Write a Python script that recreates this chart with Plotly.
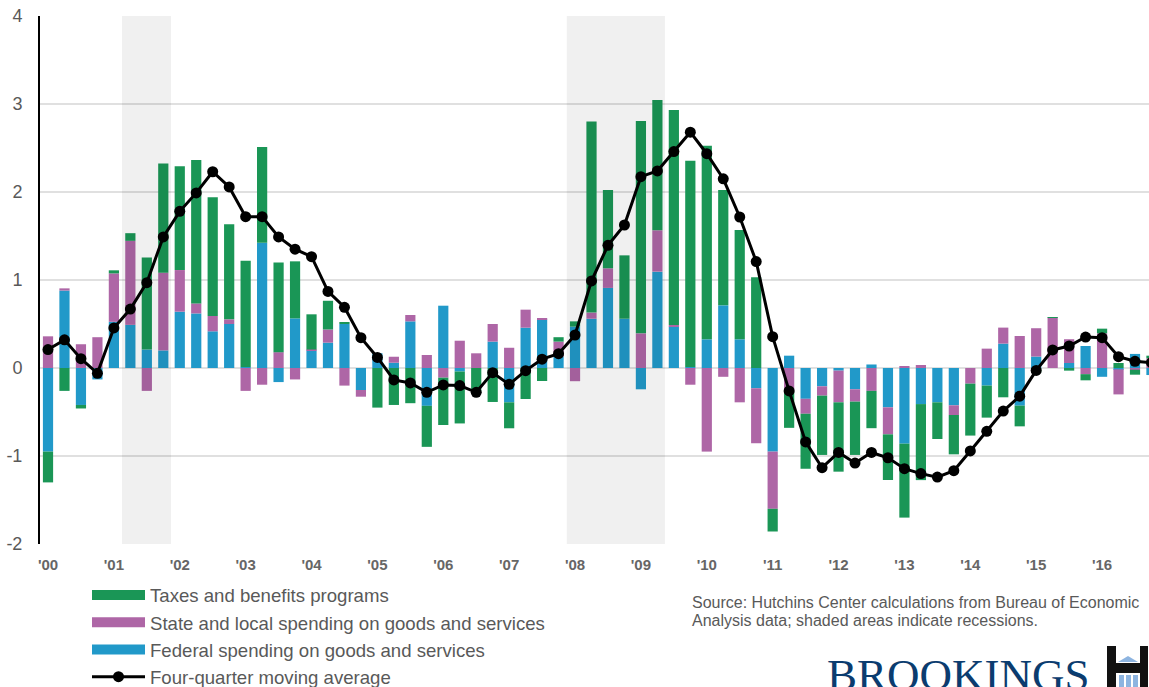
import plotly.graph_objects as go

quarters = list(range(68))
tick_labels = ["'00","'01","'02","'03","'04","'05","'06","'07","'08","'09","'10","'11","'12","'13","'14","'15","'16"]
tick_positions = list(range(0, 68, 4))

federal = [-0.95,0.88,-0.42,-0.13,0.525,0.49,0.21,0.20,0.64,0.62,0.417,0.50,0.01,1.424,-0.16,0.564,0.20,0.288,0.50,-0.25,
           0.167,0.06,0.53,-0.43,0.708,-0.04,0.0,0.30,-0.39,0.458,0.55,0.13,0.47,0.56,0.91,0.56,-0.242,1.095,0.47,0.01,
           0.326,0.712,0.326,-0.23,-0.95,0.14,-0.35,-0.208,-0.03,-0.242,0.04,-0.447,-0.86,-0.41,-0.39,-0.424,0.0,-0.20,
           0.277,-0.428,0.13,0.0,0.057,0.25,-0.10,-0.015,0.16,-0.08]
state = [0.36,0.025,0.27,0.35,0.55,0.955,-0.26,0.883,0.473,0.114,0.174,0.053,-0.26,-0.19,0.18,-0.13,0.01,0.15,-0.20,-0.076,
         0.0,0.068,0.072,0.148,-0.11,0.31,0.167,0.20,0.23,0.205,0.015,0.17,-0.15,0.07,0.223,0.0,0.394,0.47,0.02,-0.19,
         -0.95,-0.10,-0.39,-0.625,-0.65,-0.27,-0.17,-0.106,-0.36,-0.14,-0.26,-0.307,0.023,0.034,0.0,-0.11,-0.178,0.22,
         0.182,0.364,0.322,0.576,0.27,-0.07,0.394,-0.285,-0.02,0.11]
taxes = [-0.35,-0.26,-0.04,0.0,0.035,0.087,1.045,1.24,1.18,1.63,1.35,1.08,1.21,1.087,1.02,0.648,0.40,0.326,0.02,0.0,
         -0.45,-0.42,-0.40,-0.466,-0.538,-0.59,-0.27,-0.386,-0.295,-0.352,-0.148,0.05,0.06,2.17,0.89,0.72,2.413,1.48,2.443,2.345,
         2.20,1.31,1.243,1.03,-0.258,-0.41,-0.625,-0.674,-0.788,-0.606,-0.424,-0.519,-0.84,-0.864,-0.417,-0.447,-0.59,-0.364,
         -0.333,-0.235,-0.05,0.002,-0.03,-0.07,0.053,0.057,-0.056,0.03]
moving_avg = [0.21,0.32,0.106,-0.06,0.455,0.67,0.97,1.49,1.78,1.99,2.23,2.057,1.72,1.72,1.49,1.35,1.265,0.87,0.69,0.345,
              0.12,-0.136,-0.17,-0.276,-0.193,-0.2,-0.276,-0.053,-0.186,-0.03,0.10,0.163,0.375,0.99,1.394,1.625,2.174,2.24,2.46,2.68,
              2.435,2.15,1.716,1.21,0.356,-0.26,-0.84,-1.133,-0.96,-1.08,-0.96,-1.02,-1.144,-1.2,-1.24,-1.167,-0.943,-0.72,
              -0.49,-0.32,-0.027,0.205,0.25,0.352,0.345,0.129,0.076,0.06]

recessions = [(4.49, 7.47), (31.5, 37.46)]

GREEN = "#1a9656"
PURPLE = "#ae66a6"
BLUE = "#2199c9"
W, H = 1149, 687
L, T, B = 40, 16, 544
FONT = "Liberation Sans"

fig = go.Figure()
for name, vals, col in [("Federal spending on goods and services", federal, BLUE),
                        ("State and local spending on goods and services", state, PURPLE),
                        ("Taxes and benefits programs", taxes, GREEN)]:
    fig.add_bar(x=quarters, y=vals, name=name, marker=dict(color=col, line=dict(width=0)),
                width=0.62, showlegend=False)
fig.add_scatter(x=quarters, y=moving_avg, mode="lines+markers", name="Four-quarter moving average",
                line=dict(color="black", width=3), marker=dict(color="black", size=11), showlegend=False)

# legend proxies
for i, (name, col) in enumerate([("Taxes and benefits programs", GREEN),
                  ("State and local spending on goods and services", PURPLE),
                  ("Federal spending on goods and services", BLUE)]):
    fig.add_scatter(x=[None], y=[None], mode="lines", name=name, legendgroup=str(i),
                    line=dict(color=col, width=10))
fig.add_scatter(x=[None], y=[None], mode="lines+markers", name="Four-quarter moving average", legendgroup="3",
                line=dict(color="black", width=3), marker=dict(color="black", size=11))

for a, b in recessions:
    fig.add_shape(type="rect", xref="x", yref="paper", x0=a, x1=b, y0=0, y1=1,
                  fillcolor="rgba(0,0,0,0.06)", line=dict(width=0), layer="above")

def px(x): return (x - L) / (W - L)
def py(y): return (B - y) / (B - T)
def pshape(**k):
    fig.add_shape(xref="paper", yref="paper", line=dict(width=0), **k)

# Brookings logo
pshape(type="rect", x0=px(1107), x1=px(1116), y0=py(687), y1=py(646), fillcolor="#111111")
pshape(type="rect", x0=px(1140), x1=px(1148), y0=py(687), y1=py(646), fillcolor="#111111")
pshape(type="rect", x0=px(1107), x1=px(1148), y0=py(673), y1=py(663), fillcolor="#111111")
pshape(type="path", path=f"M {px(1118)} {py(662)} L {px(1128)} {py(656)} L {px(1138)} {py(662)} Z", fillcolor="#8db4e0")
for xa in (1119, 1126, 1133):
    pshape(type="rect", x0=px(xa), x1=px(xa+5), y0=py(687), y1=py(675), fillcolor="#8db4e0")

for text, yc in [("Source: Hutchins Center calculations from Bureau of Economic", 602),
                 ("Analysis data; shaded areas indicate recessions.", 620)]:
    fig.add_annotation(xref="paper", yref="paper", x=px(690), y=py(yc), xanchor="left", yanchor="middle", align="left",
                       showarrow=False, text=text, font=dict(family=FONT, size=16, color="#595959"))
fig.add_annotation(xref="paper", yref="paper", x=px(826), y=py(648.5), xanchor="left", yanchor="top",
                   showarrow=False, text="BROOKINGS", borderpad=0,
                   font=dict(family="Liberation Serif", size=45, color="#0b3c6f"))

fig.update_layout(
    width=W, height=H, margin=dict(l=L, r=0, t=T, b=H-B, pad=0, autoexpand=False),
    plot_bgcolor="white", paper_bgcolor="white", barmode="relative", bargap=0.38,
    font=dict(family=FONT),
    legend=dict(x=px(87), y=py(576.5), xanchor="left", yanchor="top", traceorder="grouped",
                tracegroupgap=0, itemwidth=53, bgcolor="rgba(0,0,0,0)",
                font=dict(family=FONT, size=18.6, color="#595959"), itemclick=False),
    xaxis=dict(range=[-0.486, 66.85], tickvals=tick_positions, ticktext=tick_labels, showgrid=False, zeroline=False,
               showline=False, ticks="outside", ticklen=7, tickcolor="rgba(0,0,0,0)",
               tickfont=dict(family=FONT, size=15, color="#666666", weight="bold")),
    yaxis=dict(range=[-2, 4], tickvals=[-2,-1,0,1,2,3,4], ticktext=["-2","-1","0","1","2","3","4"],
               showgrid=True, gridcolor="#e0e0e0", gridwidth=2, zeroline=False,
               showline=True, linecolor="black", linewidth=2, ticks="outside", ticklen=12,
               tickcolor="rgba(0,0,0,0)", tickfont=dict(family=FONT, size=18, color="#595959")),
)
fig.write_html("out.html", config=dict(displayModeBar=False),
               post_script="document.body.style.margin='0';document.documentElement.style.overflow='hidden';document.body.style.overflow='hidden';")
